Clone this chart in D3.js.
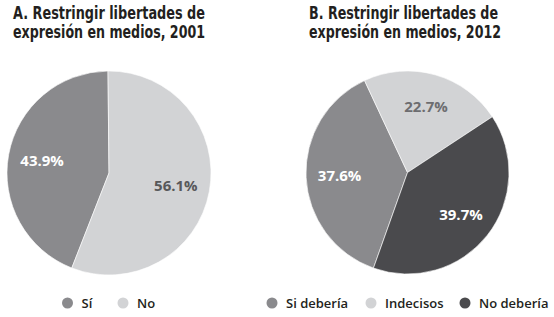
<!DOCTYPE html>
<html><head><meta charset="utf-8">
<script src="https://cdn.jsdelivr.net/npm/d3@7"></script>
<style>
html,body{margin:0;padding:0;background:#fff;}
svg{display:block;}
.title{font-family:"Liberation Sans Narrow","DejaVu Sans Condensed","Open Sans",sans-serif;font-weight:bold;font-size:17px;fill:#231f20;}
.lbl{font-family:"Open Sans","DejaVu Sans",sans-serif;font-weight:bold;font-size:15px;}
.leg{font-family:"Open Sans","DejaVu Sans",sans-serif;font-weight:600;font-size:13px;fill:#231f20;}
</style></head><body>
<script>
// Panel A (2001)
const categoriesA = ["Sí", "No"];
const valuesA = [43.9, 56.1];
const titleA = ["A. Restringir libertades de", "expresión en medios, 2001"];
// Panel B (2012)
const categoriesB = ["Si debería", "Indecisos", "No debería"];
const valuesB = [37.6, 22.7, 39.7];
const titleB = ["B. Restringir libertades de", "expresión en medios, 2012"];

const colorMap = {"Sí":"#8a8a8d","No":"#d2d3d5","Si debería":"#8a8a8d","Indecisos":"#d2d3d5","No debería":"#4a4a4d"};
const labelColor = {"Sí":"#ffffff","No":"#58585a","Si debería":"#ffffff","Indecisos":"#6d6d70","No debería":"#ffffff"};

const W=554,H=317;
const svg=d3.select("body").append("svg").attr("width",W).attr("height",H);

function panel(cfg){
  const g=svg.append("g");
  // title
  cfg.title.forEach((t,i)=>{
    g.append("text").attr("class","title")
      .attr("x",cfg.tx).attr("y",cfg.ty[i])
      .attr("textLength",cfg.tw[i]).attr("lengthAdjust","spacingAndGlyphs")
      .text(t);
  });
  const data=cfg.cats.map((c,i)=>({c,v:cfg.vals[i]}));
  const total=d3.sum(cfg.vals);
  const start=cfg.start;
  const pie=d3.pie().sort(null).value(d=>d.v).startAngle(start).endAngle(start+2*Math.PI);
  const arc=d3.arc().innerRadius(0).outerRadius(cfg.r);
  const larc=d3.arc().innerRadius(cfg.lr).outerRadius(cfg.lr);
  const pg=g.append("g").attr("transform",`translate(${cfg.cx},${cfg.cy})`);
  const arcs=pie(data);
  pg.selectAll("path").data(arcs).join("path")
    .attr("d",arc).attr("fill",d=>colorMap[d.data.c])
    .attr("stroke","#fff").attr("stroke-width",0.6);
  pg.selectAll("text").data(arcs).join("text").attr("class","lbl")
    .attr("transform",d=>`translate(${larc.centroid(d)})`)
    .attr("text-anchor","middle").attr("dy","0.36em")
    .attr("fill",d=>labelColor[d.data.c])
    .text(d=>d.data.v.toFixed(1)+"%");
  // legend
  const lg=g.append("g");
  cfg.cats.forEach((c,i)=>{
    lg.append("circle").attr("cx",cfg.legX[i]).attr("cy",303).attr("r",5.5).attr("fill",colorMap[c]);
    lg.append("text").attr("class","leg").attr("x",cfg.legX[i]+14).attr("y",307.5).text(c);
  });
}

panel({cats:categoriesA, vals:valuesA, title:titleA, tx:13, ty:[18.5,37.5], tw:[192,192],
  cx:109, cy:173, r:102, lr:68, start:-valuesA[0]/100*2*Math.PI - 0.01,
  legX:[67.5,123]});
panel({cats:categoriesB, vals:valuesB, title:titleB, tx:309, ty:[18.5,37.5], tw:[189,192],
  cx:407.5, cy:172.5, r:101.5, lr:68, start:-160.4*Math.PI/180,
  legX:[272,371,465]});
</script>
</body></html>
